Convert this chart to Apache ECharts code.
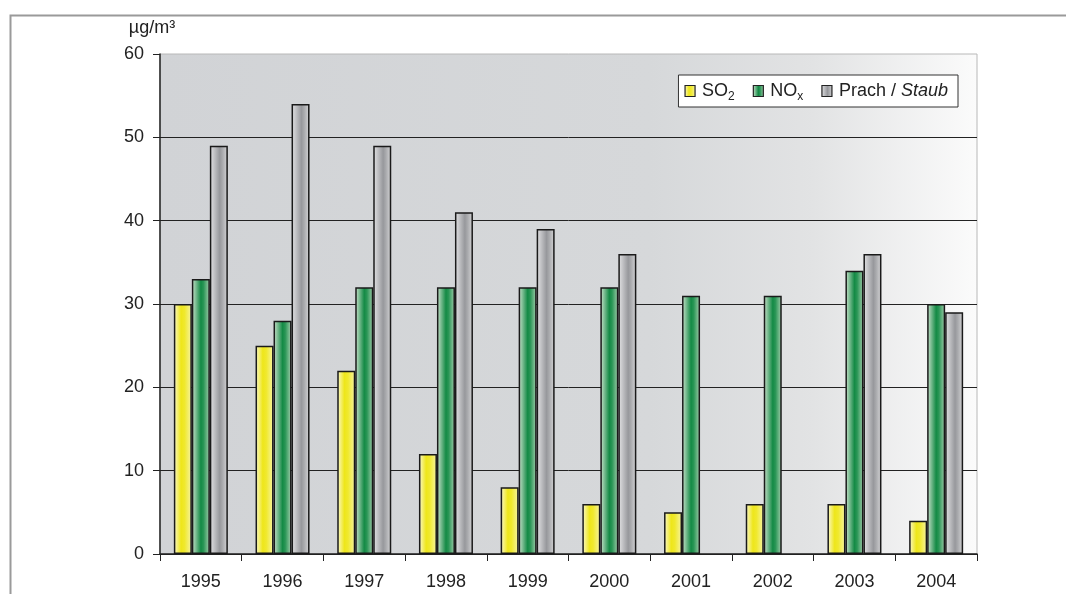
<!DOCTYPE html>
<html>
<head>
<meta charset="utf-8">
<script src="https://cdn.jsdelivr.net/npm/echarts@6/dist/echarts.min.js"></script>
<style>
  html, body { margin: 0; padding: 0; background: #fff; }
  #chart { width: 1066px; height: 594px; }
</style>
</head>
<body>
<div id="chart"></div>
<script>
  // data
  var years = ['1995', '1996', '1997', '1998', '1999', '2000', '2001', '2002', '2003', '2004'];
  var so2 = [30, 25, 22, 12, 8, 6, 5, 6, 6, 4];
  var nox = [33, 28, 32, 32, 32, 32, 31, 31, 34, 30];
  var staub = [49, 54, 49, 41, 39, 36, null, null, 36, 29];
  var seriesNames = ['SO2', 'NOx', 'Staub'];

  function grad(stops) {
    return new echarts.graphic.LinearGradient(0, 0, 1, 0, stops.map(function (s) {
      return { offset: s[0], color: s[1] };
    }));
  }

  var yellow = grad([[0, '#fbf9d0'], [0.4, '#eee61a'], [0.6, '#f0e92e'], [1, '#f7f4a8']]);
  var green = grad([[0, '#cfe5d0'], [0.5, '#138a45'], [0.65, '#2a9656'], [1, '#a8d0b0']]);
  var gray = grad([[0, '#e4e4e6'], [0.55, '#97989c'], [0.7, '#a9aaad'], [1, '#d6d6d8']]);

  var myChart = echarts.init(document.getElementById('chart'));

  function bar(name, data, color) {
    return {
      name: name,
      type: 'bar',
      data: data,
      barWidth: 18,
      barGap: '0%',
      itemStyle: { color: color, borderColor: '#1a1a1a', borderWidth: 1.5 }
    };
  }

  var font = 'Liberation Sans, Arial, sans-serif';

  var option = {
    backgroundColor: '#fff',
    animation: false,
    textStyle: { fontFamily: font },
    graphic: [{
      type: 'rect',
      left: 8, top: 13,
      shape: { width: 1100, height: 700 },
      style: { fill: 'none', stroke: '#9a9a9a', lineWidth: 2 },
      silent: true
    }],
    grid: {
      left: 160, right: 89, top: 54, bottom: 40,
      show: true,
      borderColor: '#b8b8b8',
      borderWidth: 1,
      backgroundColor: new echarts.graphic.LinearGradient(0, 0, 1, 0, [
        { offset: 0, color: '#d1d3d6' },
        { offset: 0.6, color: '#d6d8da' },
        { offset: 0.8, color: '#e2e3e4' },
        { offset: 1, color: '#fbfbfb' }
      ]),
      containLabel: false
    },
    legend: {
      data: seriesNames,
      right: 108,
      top: 75,
      backgroundColor: '#fff',
      borderColor: '#333',
      borderWidth: 1,
      borderRadius: 0,
      padding: [4, 10, 4, 6],
      itemWidth: 10,
      itemHeight: 11,
      itemGap: 18,
      icon: 'rect',
      itemStyle: { borderWidth: 1.2, borderColor: '#222' },
      formatter: function (name) {
        if (name === 'SO2') return '{m|SO}{s|2}';
        if (name === 'NOx') return '{m|NO}{s|x}';
        return '{m|Prach / }{i|Staub}';
      },
      textStyle: {
        color: '#222',
        padding: [0, 0, 0, 2],
        rich: {
          m: { fontSize: 18, color: '#222', fontFamily: font, lineHeight: 22 },
          i: { fontSize: 18, color: '#222', fontStyle: 'italic', fontFamily: font, lineHeight: 22 },
          s: { fontSize: 12, color: '#222', fontFamily: font, padding: [12, 0, 0, 0], lineHeight: 22 }
        }
      }
    },
    xAxis: {
      type: 'category',
      data: years,
      boundaryGap: true,
      axisLine: { lineStyle: { color: '#222', width: 1.5 } },
      axisTick: { show: true, length: 7, lineStyle: { color: '#222' } },
      axisLabel: { color: '#222', fontSize: 18, margin: 19, fontFamily: font },
      splitLine: { show: false }
    },
    yAxis: {
      type: 'value',
      min: 0,
      max: 60,
      interval: 10,
      name: 'µg/m³',
      nameLocation: 'end',
      nameGap: 17,
      nameTextStyle: { color: '#222', fontSize: 18, padding: [0, 16, 0, 0], fontFamily: font },
      axisLine: { show: true, lineStyle: { color: '#222', width: 1.5 } },
      axisTick: { show: true, length: 7, lineStyle: { color: '#222' } },
      axisLabel: { color: '#222', fontSize: 18, margin: 16, fontFamily: font },
      splitLine: { show: true, showMaxLine: false, lineStyle: { color: '#222', width: 1 } }
    },
    series: [
      bar('SO2', so2, yellow),
      bar('NOx', nox, green),
      bar('Staub', staub, gray)
    ]
  };
  myChart.setOption(option);
</script>
</body>
</html>
